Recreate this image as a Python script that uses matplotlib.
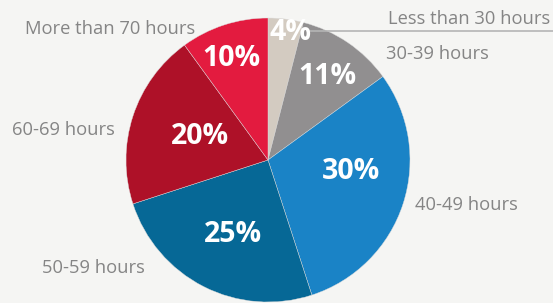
import matplotlib
matplotlib.use('Agg')
from matplotlib import pyplot as plt
import numpy as np

categories = ['Less than 30 hours', '30-39 hours', '40-49 hours', '50-59 hours', '60-69 hours', 'More than 70 hours']
shares = [4, 11, 30, 25, 20, 10]
pct_labels = ['4%', '11%', '30%', '25%', '20%', '10%']
colors = ['#d3cbc1', '#918f90', '#1a83c6', '#066896', '#ae1128', '#e31b3f']

bg = '#f5f5f3'
plt.rcParams['font.family'] = ['Open Sans', 'DejaVu Sans']

fig = plt.figure(figsize=(5.53, 3.03), dpi=100, facecolor=bg)
ax = fig.add_axes([0, 0, 1, 1])
ax.set_facecolor(bg)

cx, cy, r = 268, 143, 142
wedges, _ = ax.pie(shares, colors=colors, startangle=90, counterclock=False,
                   center=(cx, cy), radius=r, frame=True,
                   wedgeprops=dict(linewidth=0.3, edgecolor='#dcdcdc'))
ax.set_xlim(0, 553)
ax.set_ylim(0, 303)
ax.set_aspect('equal')
ax.axis('off')

# radial distance (fraction of radius) and angle nudge for each percent label
label_dist = [0.91, 0.72, 0.59, 0.58, 0.51, 0.76]
angle_nudge = [-3, -1, 10, 2, -1, 2]
for w, txt, d, da in zip(wedges, pct_labels, label_dist, angle_nudge):
    ang = np.deg2rad((w.theta1 + w.theta2) / 2 + da)
    ax.text(cx + d * r * np.cos(ang), cy + d * r * np.sin(ang), txt,
            color='white', fontsize=20.5, fontweight='bold', ha='center', va='center')

# outer category labels (pixel positions, y from bottom)
lab_pos = [(550, 284, 'right'), (386, 249, 'left'), (415, 98, 'left'),
           (42, 35, 'left'), (12, 173, 'left'), (25, 274, 'left')]
for name, (x, y, ha) in zip(categories, lab_pos):
    ax.text(x, y, name, color='#858585', fontsize=13.2, ha=ha, va='center')

ax.plot([307, 553], [272, 272], color='#b5b5b5', lw=1.2)

fig.savefig('out.png', dpi=100, facecolor=bg)
